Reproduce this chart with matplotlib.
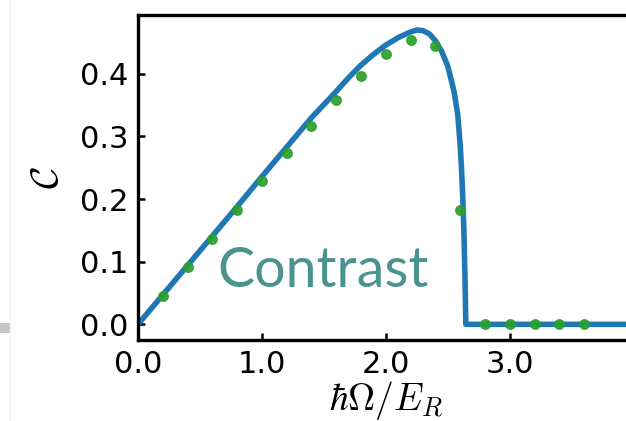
import matplotlib
matplotlib.use("Agg")
import matplotlib.pyplot as plt
from matplotlib.patches import Rectangle
from matplotlib.lines import Line2D
from matplotlib.ticker import FormatStrFormatter

plt.rcParams["mathtext.fontset"] = "cm"

# theory curve
omega_theory = [0.0, 0.2, 0.4, 0.6, 0.8, 1.0, 1.2, 1.4, 1.6, 1.7, 1.8, 1.9,
                2.0, 2.1, 2.2, 2.25, 2.3, 2.35, 2.4, 2.45, 2.5, 2.55, 2.58,
                2.6, 2.61, 2.62, 2.63, 2.64, 2.645, 4.0]
contrast_theory = [0.0, 0.047, 0.094, 0.141, 0.188, 0.236, 0.283, 0.330, 0.372,
                   0.394, 0.414, 0.431, 0.446, 0.458, 0.467, 0.470, 0.469,
                   0.464, 0.453, 0.436, 0.412, 0.372, 0.335, 0.285, 0.25, 0.205,
                   0.145, 0.06, 0.0, 0.0]

# measured points
omega_meas = [0.2, 0.4, 0.6, 0.8, 1.0, 1.2, 1.4, 1.6, 1.8, 2.0, 2.2, 2.4, 2.6,
              2.8, 3.0, 3.2, 3.4, 3.6]
contrast_meas = [0.045, 0.092, 0.137, 0.183, 0.229, 0.273, 0.317, 0.358, 0.397,
                 0.431, 0.454, 0.445, 0.182, 0.0, 0.0, 0.0, 0.0, 0.0]

x_ticks = [0.0, 1.0, 2.0, 3.0]
y_ticks = [0.0, 0.1, 0.2, 0.3, 0.4]

fig = plt.figure(figsize=(6.26, 4.21), dpi=100)
ax = fig.add_axes([0.2204, 0.1924, 0.792, 0.772])

ax.plot(omega_theory, contrast_theory, color="#1f77b4", lw=4.0,
        solid_joinstyle="round", zorder=2)
ax.plot(omega_meas, contrast_meas, "o", color="#2ca02c", ms=6.8, alpha=0.92,
        zorder=3)

ax.set_xlim(0, 4.0)
ax.set_ylim(-0.025, 0.494)
ax.set_xticks(x_ticks)
ax.set_yticks(y_ticks)
ax.xaxis.set_major_formatter(FormatStrFormatter("%.1f"))
ax.yaxis.set_major_formatter(FormatStrFormatter("%.1f"))
ax.tick_params(direction="in", length=5, width=1.8, labelsize=22, pad=7)

for side in ax.spines.values():
    side.set_linewidth(2.4)

ax.set_xlabel(r"$\hbar\Omega/E_R$", fontsize=27, labelpad=0)
ax.set_ylabel(r"$\mathcal{C}$", fontsize=28, labelpad=10)

ax.text(0.64, 0.085, "Contrast", fontsize=40, color="#4a938e",
        family=["Lato", "DejaVu Sans"], ha="left", va="center")

# slide edge on the left
fig.add_artist(Line2D([10 / 626, 10 / 626], [0, 1], color="#f2f2f2", lw=1,
                      transform=fig.transFigure))
fig.add_artist(Rectangle((0, 88 / 421), 10 / 626, 10 / 421, color="#c8c8c8",
                         lw=0, transform=fig.transFigure))

fig.savefig("out.png", dpi=100)
